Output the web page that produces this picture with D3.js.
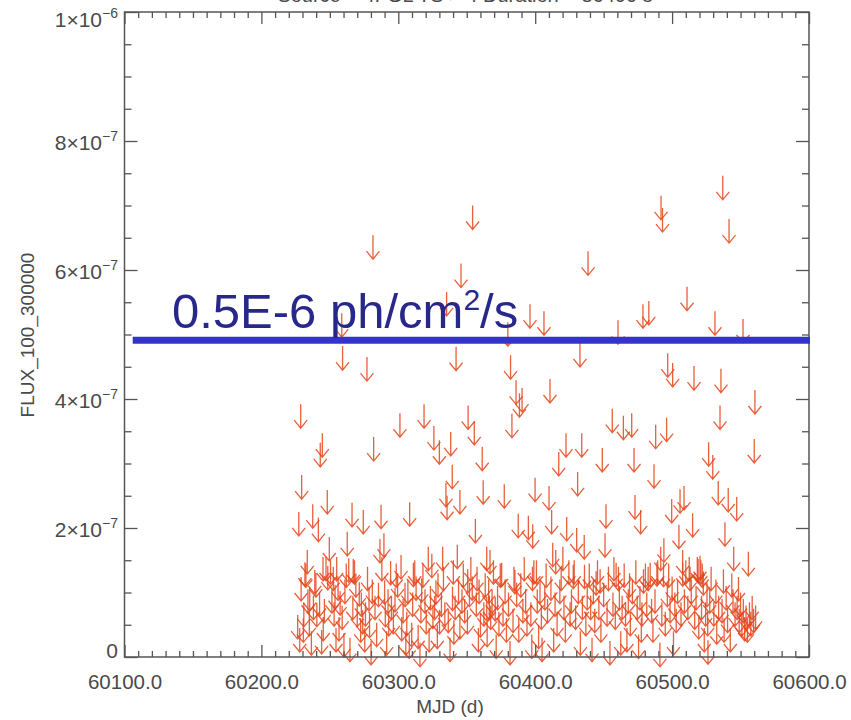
<!DOCTYPE html>
<html>
<head>
<meta charset="utf-8">
<script src="https://cdn.jsdelivr.net/npm/d3@7/dist/d3.min.js"></script>
<style>
  html, body { margin: 0; padding: 0; background: #fff; }
  svg { display: block; }
  text { font-family: "Liberation Sans", Arial, sans-serif; }
</style>
</head>
<body>
<svg id="chart" width="851" height="720"></svg>
<script>
// ---------------- DATA ----------------
// Upper limits: MJD (days) and flux upper limit in units of 1e-7 ph/cm^2/s
const mjd = [
  60537.0,60491.9,60493.0,60541.6,60438.6,60510.9,60396.2,60406.4,60478.7,60483.0,
  60531.3,60551.8,60380.0,60460.5,60432.7,60382.0,60496.8,60500.4,60516.0,60535.7,
  60410.8,60386.0,60390.4,60388.5,60560.5,60535.0,60354.3,60281.5,60345.8,60335.3,
  60258.7,60259.3,60277.1,60342.2,60228.7,60318.8,60351.0,60301.2,60326.0,60338.3,
  60330.0,60355.5,60244.5,60243.0,60282.0,60361.3,60229.4,60248.1,60339.4,60334.8,
  60335.6,60345.0,60362.0,60227.3,60237.5,60241.6,60266.2,60274.4,60287.4,60308.3,
  60262.7,60356.3,60249.6,60233.5,60289.5,60286.6,60321.9,60332.4,60343.1,60364.6,
  60383.0,60456.3,60464.4,60470.5,60488.0,60496.0,60422.5,60434.0,60417.2,60449.0,
  60472.2,60526.7,60529.7,60560.0,60431.0,60486.8,60377.4,60399.9,60410.1,60533.7,
  60541.0,60547.2,60505.8,60508.7,60499.7,60387.6,60395.0,60398.2,60412.0,60423.0,
  60451.7,60472.9,60477.0,60515.0,60538.6,60505.0,60430.3,60435.8,60451.0,60412.8,
  60415.0,60420.2,60491.7,60494.0,60507.7,60545.0,60555.7,
  60231.8,60247.2,60255.0,60263.8,60267.1,60350.7,60357.5,60311.0,60294.4,60302.0,
  60239.8,60252.5,60271.5,60278.6,60290.0,60297.6,60304.9,60317.1,60327.5,60340.2,
  60339.6,60364.6,60240.5,60231.0,60253.1,60256.7,60226.5,60230.6,60235.0,60245.2,
  60260.3,60270.0,60274.0,60284.2,60279.0,60290.5,60296.4,60302.5,60306.2,60309.8,
  60320.4,60325.3,60330.1,60340.6,60345.0,60350.5,60360.0,60364.9,60370.8,
  60367.0,60375.5,60385.2,60400.9,60398.0,60424.6,60427.8,60436.0,60444.5,60447.4,
  60459.1,60460.8,60468.9,60479.1,60484.0,60488.9,60493.7,60507.7,60513.1,60518.4,
  60520.4,60519.0,60521.0,60522.0,60522.8,60537.5,60543.6,60548.5,
  60228.0,60229.0,60232.5,60234.0,60235.3,60236.5,60238.0,60239.0,60242.5,60244.0,
  60245.0,60246.0,60248.5,60250.5,60251.5,60253.8,60254.5,60256.0,60257.5,60259.0,
  60261.0,60262.0,60264.7,60266.8,60268.0,60269.0,60272.5,60273.0,60275.5,60276.0,
  60277.5,60280.1,60281.0,60283.0,60285.5,60288.0,60291.5,60292.5,60293.0,60295.0,
  60298.5,60299.5,60303.5,60305.5,60307.0,60308.0,60310.5,60312.0,60313.0,60314.5,
  60315.8,60316.5,60318.0,60319.5,60322.5,60323.5,60324.5,60326.5,60328.5,60329.0,
  60331.5,60333.0,60334.0,60336.5,60337.8,60341.5,60344.0,60346.5,60347.5,60348.5,
  60352.0,60353.0,60354.0,60357.0,60358.5,60359.0,60362.5,60363.5,60366.0,60366.5,
  60367.5,60368.5,60369.5,60371.5,60372.5,60373.5,60374.5,60376.5,60378.0,60379.0,
  60380.5,60381.6,60383.8,60384.5,60386.5,60388.0,60389.5,60391.0,60392.0,60393.0,
  60394.0,60396.8,60397.5,60399.0,60401.5,60402.5,60403.5,60404.5,60405.0,60407.0,
  60408.0,60409.0,60411.5,60413.5,60414.5,60416.0,60418.0,60419.0,60421.0,60422.0,
  60425.5,60426.5,60428.5,60429.5,60431.5,60433.0,60434.5,60437.0,60438.0,60439.5,
  60440.5,60441.5,60442.5,60443.5,60445.5,60446.5,60448.0,60450.0,60452.5,60453.5,
  60454.6,60456.8,60457.5,60458.5,60461.5,60462.5,60463.5,60465.0,60466.0,60467.0,
  60468.0,60469.5,60471.0,60473.5,60474.5,60475.5,60476.5,60477.5,60478.0,60480.5,
  60481.5,60482.5,60485.0,60486.0,60487.5,60489.5,60491.1,60492.5,60495.0,60496.5,
  60497.5,60498.5,60500.0,60501.0,60502.0,60503.0,60504.0,60506.5,60509.0,60510.0,
  60511.5,60512.5,60514.0,60516.5,60517.5,60519.5,60521.5,60523.5,60524.5,60525.5,
  60526.0,60526.2,60527.5,60528.5,60530.5,60532.0,60532.6,60534.0,60536.5,60538.0,
  60539.5,60540.5,60542.5,60544.5,60546.0,60547.5,60549.0,60550.0,60551.0,60552.0,
  60553.0,60554.0,60555.0,60556.5,60557.5,60558.5,60559.5,60561.0
];
const fluxUL = [
  7.46,7.15,6.96,6.79,6.29,5.74,5.47,5.36,5.47,5.52,
  5.36,5.24,5.19,5.22,4.87,4.68,4.71,4.56,4.51,4.47,
  4.31,4.29,4.17,4.09,4.14,3.90,7.00,6.54,6.10,5.66,
  5.33,4.82,4.65,4.81,3.92,3.92,3.90,3.78,3.58,3.49,
  3.36,3.66,3.47,3.32,3.41,3.26,2.82,2.59,2.98,2.70,
  2.50,2.59,2.74,2.25,2.37,2.16,2.39,2.28,2.36,2.40,
  1.94,2.14,1.86,1.66,1.92,1.83,1.71,1.71,1.74,1.71,
  3.77,3.85,3.74,3.78,3.60,3.71,3.47,3.47,3.18,3.24,
  3.24,3.33,3.13,3.38,2.87,2.99,2.68,2.78,2.65,2.73,
  2.62,2.48,2.60,2.65,2.45,2.22,2.19,2.06,2.28,2.17,
  2.37,2.51,2.28,2.23,2.09,2.05,2.00,1.89,1.92,1.77,
  1.66,1.71,1.71,1.84,1.66,1.71,1.63,
  1.47,1.55,1.55,1.53,1.52,1.36,1.40,1.46,1.49,1.58,
  1.30,1.40,1.16,1.09,1.19,1.07,1.15,1.22,1.19,1.50,
  1.09,0.93,0.84,0.84,0.85,0.62,0.65,0.60,0.70,0.62,
  0.37,0.84,0.73,0.53,0.67,0.84,0.73,0.62,0.70,0.53,
  0.73,0.81,0.73,0.57,0.65,0.73,0.68,0.53,0.93,
  1.66,1.46,1.35,1.50,1.40,1.50,1.43,1.43,1.33,1.36,
  1.46,1.40,1.30,1.36,1.46,1.47,1.46,1.47,1.40,1.55,
  1.57,1.52,1.50,1.45,1.33,1.36,1.30,1.24,
  0.45,1.24,1.45,1.05,1.09,0.40,0.95,1.35,1.00,0.42,
  1.55,0.90,1.41,1.50,1.05,1.12,0.45,1.25,1.02,0.80,
  1.20,1.45,0.30,0.95,1.50,1.30,0.60,1.00,0.45,0.85,
  1.40,0.25,1.20,0.95,1.15,1.55,0.40,1.05,0.70,0.95,
  1.45,1.30,0.90,0.40,1.20,0.35,1.00,1.50,1.25,0.50,
  0.22,0.90,1.45,1.05,0.45,1.10,1.60,0.95,0.50,1.30,
  1.00,1.40,0.85,0.75,0.30,0.95,1.20,1.05,1.45,0.90,
  1.15,1.55,1.25,1.00,0.45,1.20,0.85,1.30,1.20,0.95,
  0.80,1.05,1.50,0.35,1.10,0.70,1.45,0.85,1.20,0.60,
  1.00,0.25,0.75,1.40,1.15,0.60,1.30,0.90,1.55,1.05,
  0.70,0.85,0.35,1.50,1.05,0.50,1.20,0.80,0.30,1.10,
  1.45,0.90,1.25,0.45,1.00,0.70,1.20,1.40,0.95,0.60,
  0.85,1.05,1.50,0.80,1.20,0.40,0.95,0.70,1.10,1.45,
  0.95,0.30,1.20,0.75,1.50,0.95,0.60,1.15,0.85,1.40,
  0.25,1.00,1.55,0.80,1.10,0.40,0.95,1.45,0.85,0.45,
  1.05,0.70,1.20,1.50,0.95,0.35,1.10,0.60,0.85,1.45,
  1.00,1.40,0.90,0.60,1.05,1.50,0.22,0.85,0.70,1.15,
  1.45,0.90,1.25,0.40,1.00,0.75,1.20,0.85,1.05,1.50,
  0.95,1.55,1.20,0.80,1.10,0.65,0.95,0.45,0.85,1.15,
  0.70,0.26,1.05,1.40,0.85,1.20,0.57,0.95,0.90,0.60,
  1.10,0.75,0.45,1.05,0.85,0.95,0.75,1.00,0.70,0.90,
  0.62,0.80,0.60,0.85,0.70,0.95,0.75,0.80
];
const fluxUnit = 1e-7;

// Axis ticks and labels
const xMajorTicks = [60100, 60200, 60300, 60400, 60500, 60600];
const xMinorStep = 10;
const yMajorTicks = [0, 2e-7, 4e-7, 6e-7, 8e-7, 1e-6];
const yTickMantissa = ["0", "2×10", "4×10", "6×10", "8×10", "1×10"];
const yTickExponent = ["", "−7", "−7", "−7", "−7", "−6"];
const yMinorStep = 0.5e-7;

const xTitle = "MJD (d)";
const yTitle = "FLUX_100_300000";
const plotTitle = "Source = 4FGL   TS > 4   Duration = 86400 s";

// Reference line annotation
const refLineFlux = 4.91e-7;
const refLineStartMJD = 60106;
const refLabelMain = "0.5E-6 ph/cm";
const refLabelSup = "2";
const refLabelEnd = "/s";

// ---------------- DRAW ----------------
const svg = d3.select("#chart");
const L = 124.5, R = 809, T = 12, B = 657;
const x = d3.scaleLinear().domain([60100, 60600]).range([L, R]);
const y = d3.scaleLinear().domain([0, 1e-6]).range([B, T]);

const axisColor = "#555";
const textColor = "#4a4a4a";

// Title (cropped at the top edge, as in the reference)
svg.append("text")
  .attr("x", 465).attr("y", 2)
  .attr("text-anchor", "middle")
  .attr("font-size", 20)
  .attr("fill", textColor)
  .text(plotTitle);

// Data arrows (upper limits)
const pts = mjd.map((m, i) => ({ m, f: fluxUL[i] * fluxUnit }));
const arrowLen = 24, headW = 6.5, headH = 8;
svg.append("g")
  .attr("fill", "none")
  .attr("stroke", "#e4441a")
  .attr("stroke-width", 1.3)
  .attr("stroke-opacity", 0.85)
  .selectAll("path")
  .data(pts)
  .join("path")
  .attr("d", d => {
    const px = x(d.m), py = y(d.f), ty = py + arrowLen;
    return `M${px},${py}V${ty}M${px - headW},${ty - headH}L${px},${ty}L${px + headW},${ty - headH}`;
  });

// Frame
svg.append("rect")
  .attr("x", L).attr("y", T)
  .attr("width", R - L).attr("height", B - T)
  .attr("fill", "none")
  .attr("stroke", axisColor)
  .attr("stroke-width", 1.5);

// Ticks via d3 axes
const xMinor = d3.range(60100, 60600 + 0.1, xMinorStep).filter(v => !xMajorTicks.includes(v));
const yMinor = d3.range(0, 1e-6 + 1e-12, yMinorStep).filter(v => !yMajorTicks.some(t => Math.abs(t - v) < 1e-12));

function styleAxis(g) {
  g.select(".domain").remove();
  g.selectAll("line").attr("stroke", axisColor).attr("stroke-width", 1.3);
}

// bottom
svg.append("g").attr("transform", `translate(0,${B})`)
  .call(d3.axisBottom(x).tickValues(xMinor).tickSize(-6).tickFormat(""))
  .call(styleAxis);
svg.append("g").attr("transform", `translate(0,${B})`)
  .call(d3.axisBottom(x).tickValues(xMajorTicks).tickSize(-12).tickPadding(17).tickFormat(d3.format(".1f")))
  .call(styleAxis)
  .call(g => g.selectAll("text")
    .attr("font-size", 20.5).attr("fill", textColor)
    .attr("font-family", "'Liberation Sans', Arial, sans-serif"));
// top
svg.append("g").attr("transform", `translate(0,${T})`)
  .call(d3.axisTop(x).tickValues(xMinor).tickSize(-6).tickFormat(""))
  .call(styleAxis);
svg.append("g").attr("transform", `translate(0,${T})`)
  .call(d3.axisTop(x).tickValues(xMajorTicks).tickSize(-12).tickFormat(""))
  .call(styleAxis);
// left
svg.append("g").attr("transform", `translate(${L},0)`)
  .call(d3.axisLeft(y).tickValues(yMinor).tickSize(-7).tickFormat(""))
  .call(styleAxis);
svg.append("g").attr("transform", `translate(${L},0)`)
  .call(d3.axisLeft(y).tickValues(yMajorTicks).tickSize(-13).tickFormat(""))
  .call(styleAxis);
// right
svg.append("g").attr("transform", `translate(${R},0)`)
  .call(d3.axisRight(y).tickValues(yMinor).tickSize(-7).tickFormat(""))
  .call(styleAxis);
svg.append("g").attr("transform", `translate(${R},0)`)
  .call(d3.axisRight(y).tickValues(yMajorTicks).tickSize(-13).tickFormat(""))
  .call(styleAxis);

// Y tick labels with superscript exponents
const yl = svg.append("g");
yMajorTicks.forEach((v, i) => {
  let cy = y(v) + 2;
  cy = Math.max(20, Math.min(651, cy));
  const t = yl.append("text")
    .attr("x", 118).attr("y", cy)
    .attr("dy", "0.35em")
    .attr("text-anchor", "end")
    .attr("font-size", 21)
    .attr("fill", textColor);
  t.append("tspan").text(yTickMantissa[i]);
  if (yTickExponent[i]) {
    t.append("tspan").attr("dy", -9).attr("font-size", 14).text(yTickExponent[i]);
  }
});

// Axis titles
svg.append("text")
  .attr("x", 450).attr("y", 713)
  .attr("text-anchor", "middle")
  .attr("font-size", 19)
  .attr("fill", textColor)
  .text(xTitle);
svg.append("text")
  .attr("transform", "translate(34,335) rotate(-90)")
  .attr("text-anchor", "middle")
  .attr("font-size", 19)
  .attr("fill", textColor)
  .text(yTitle);

// Reference line and label
svg.append("line")
  .attr("x1", x(refLineStartMJD)).attr("x2", x(60600) + 1)
  .attr("y1", y(refLineFlux)).attr("y2", y(refLineFlux))
  .attr("stroke", "#3434c8")
  .attr("stroke-width", 7);
const lab = svg.append("text")
  .attr("x", 172).attr("y", 328)
  .attr("font-size", 49)
  .attr("fill", "#28288c");
lab.append("tspan").text(refLabelMain);
lab.append("tspan").attr("dy", -18).attr("font-size", 30).text(refLabelSup);
lab.append("tspan").attr("dy", 18).text(refLabelEnd);
</script>
</body>
</html>
